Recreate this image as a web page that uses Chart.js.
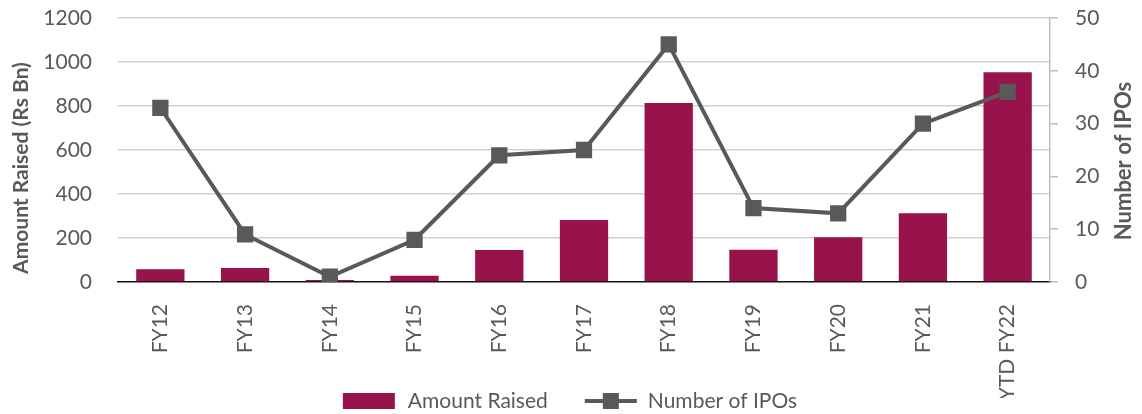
<!DOCTYPE html>
<html lang="en">
<head>
<meta charset="UTF-8" />
<title>IPO Amount Raised</title>
<script src="https://cdn.jsdelivr.net/npm/chart.js"></script>
<style>
  html, body { margin: 0; padding: 0; background: #fff; }
</style>
</head>
<body>
<canvas id="ipoChart" width="1142" height="414"></canvas>
<script>
// data
var years = ["FY12", "FY13", "FY14", "FY15", "FY16", "FY17", "FY18", "FY19", "FY20", "FY21", "YTD FY22"];
var amountRaised = [58, 64, 9, 28, 145, 282, 814, 147, 203, 312, 953]; // Rs Bn
var ipoCount = [33, 9, 1, 8, 24, 25, 45, 14, 13, 30, 36];

var amountAxis = { min: 0, max: 1200, step: 200, title: "Amount Raised (Rs Bn)" };
var countAxis = { min: 0, max: 50, step: 10, title: "Number of IPOs" };

var barColor = "#98134b";
var lineColor = "#595959";
var textColor = "#595959";
var gridColor = "#cfcfcf";

Chart.defaults.font.family = "Lato";
Chart.defaults.color = textColor;

function sideTitle(ctx, text, size, x, y) {
  ctx.save();
  ctx.font = "bold " + size + "px Lato";
  ctx.fillStyle = textColor;
  ctx.textAlign = "center";
  ctx.textBaseline = "middle";
  ctx.translate(x, y);
  ctx.rotate(-Math.PI / 2);
  ctx.fillText(text, 0, 0);
  ctx.restore();
}

// axis titles (both read bottom to top) and bottom legend
var extras = {
  id: "extras",
  afterDraw: function (chart) {
    var ctx = chart.ctx;
    var area = chart.chartArea;
    var mid = (area.top + area.bottom) / 2;

    sideTitle(ctx, amountAxis.title, 21, chart.scales.y.left + 21, mid + 18);
    sideTitle(ctx, countAxis.title, 22, chart.scales.y1.right - 18, mid + 11);

    // legend: bars first, then the line
    var barSet = chart.data.datasets.find(function (d) { return d.type === "bar"; });
    var lineSet = chart.data.datasets.find(function (d) { return d.type === "line"; });

    ctx.save();
    ctx.font = "21px Lato";
    var sw = 52, gapText = 13, gapItem = 37;
    var w0 = ctx.measureText(barSet.label).width;
    var w1 = ctx.measureText(lineSet.label).width;
    var total = sw + gapText + w0 + gapItem + sw + gapText + w1;
    var x = chart.width / 2 - total / 2;
    var cy = 401;

    ctx.fillStyle = barColor;
    ctx.fillRect(x, cy - 8, sw, 16);
    ctx.fillStyle = textColor;
    ctx.textAlign = "left";
    ctx.textBaseline = "middle";
    ctx.fillText(barSet.label, x + sw + gapText, cy);

    x += sw + gapText + w0 + gapItem;
    ctx.strokeStyle = lineColor;
    ctx.lineWidth = 4;
    ctx.beginPath();
    ctx.moveTo(x, cy);
    ctx.lineTo(x + sw, cy);
    ctx.stroke();
    ctx.fillStyle = lineColor;
    ctx.fillRect(x + sw / 2 - 8, cy - 8, 16, 16);
    ctx.fillStyle = textColor;
    ctx.fillText(lineSet.label, x + sw + gapText - 2, cy);
    ctx.restore();
  }
};

function plain(v) { return String(v); }

function noPad(scale) {
  scale.paddingTop = 0;
  scale.paddingBottom = 0;
  scale.paddingLeft = 0;
  scale.paddingRight = 0;
}

var ctx = document.getElementById("ipoChart").getContext("2d");
var chart = new Chart(ctx, {
  type: "bar",
  data: {
    labels: years,
    datasets: [
      {
        type: "line",
        label: "Number of IPOs",
        data: ipoCount,
        yAxisID: "y1",
        order: 0,
        borderColor: lineColor,
        backgroundColor: lineColor,
        borderWidth: 4,
        tension: 0,
        pointStyle: "rect",
        pointRadius: 11.5,
        pointHoverRadius: 11.5,
        pointBorderWidth: 0,
        pointBackgroundColor: lineColor
      },
      {
        type: "bar",
        label: "Amount Raised",
        data: amountRaised,
        yAxisID: "y",
        order: 1,
        backgroundColor: barColor,
        borderWidth: 0,
        barPercentage: 0.57,
        categoryPercentage: 1.0
      }
    ]
  },
  options: {
    responsive: false,
    animation: false,
    layout: { padding: { top: 18, bottom: 16, left: 0, right: 0 } },
    plugins: {
      legend: { display: false },
      tooltip: { enabled: false }
    },
    scales: {
      x: {
        grid: { display: false },
        border: { display: true, color: "#111111", width: 1.5 },
        ticks: {
          maxRotation: 90,
          minRotation: 90,
          padding: 14,
          font: { size: 21 },
          color: textColor
        },
        afterFit: function (scale) { scale.height = 116; noPad(scale); }
      },
      y: {
        position: "left",
        min: amountAxis.min,
        max: amountAxis.max,
        ticks: {
          stepSize: amountAxis.step,
          padding: 26,
          font: { size: 21 },
          color: textColor,
          callback: plain
        },
        grid: {
          drawTicks: false,
          lineWidth: 1.5,
          color: function (c) { return c.tick && c.tick.value === 0 ? "rgba(0,0,0,0)" : gridColor; }
        },
        border: { display: false },
        afterFit: function (scale) { scale.width = 118; noPad(scale); }
      },
      y1: {
        position: "right",
        min: countAxis.min,
        max: countAxis.max,
        ticks: {
          stepSize: countAxis.step,
          padding: 17,
          font: { size: 21 },
          color: textColor,
          callback: plain
        },
        grid: {
          drawOnChartArea: false,
          drawTicks: true,
          tickLength: 8,
          lineWidth: 1.5,
          color: "#bdbdbd"
        },
        border: { display: true, color: "#bdbdbd", width: 1.5 },
        afterFit: function (scale) { scale.width = 92; noPad(scale); }
      }
    }
  },
  plugins: [extras]
});
</script>
</body>
</html>
